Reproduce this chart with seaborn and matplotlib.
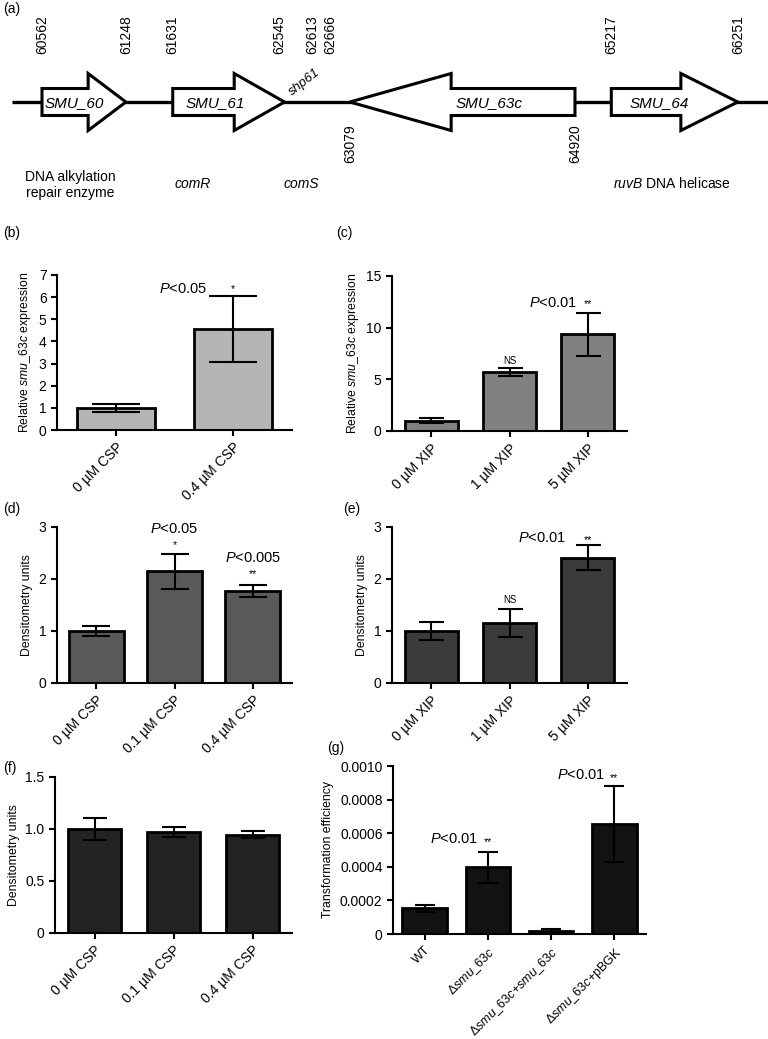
import numpy as np
import pandas as pd
import matplotlib
matplotlib.use("Agg")
import matplotlib.pyplot as plt
import matplotlib.patches as mpatches
import seaborn as sns

# ---- data ----
# (a) gene map
gene_names = ['SMU_60', 'SMU_61', 'SMU_63c', 'SMU_64']
gene_start = [60562, 61631, 63079, 65217]
gene_end = [61248, 62545, 64920, 66251]
gene_strand = [1, 1, -1, 1]
top_coords = [60562, 61248, 61631, 62545, 62613, 62666, 65217, 66251]
top_shift = [0, 0, 0, -4, 14, 22, 0, 0]  # points, to keep close labels apart
bottom_coords = [63079, 64920]

# (b) qRT-PCR, CSP
b_cats = ['0 µM CSP', '0.4 µM CSP']
b_vals = [1.0, 4.55]
b_err = [0.17, 1.49]

# (c) qRT-PCR, XIP
c_cats = ['0 µM XIP', '1 µM XIP', '5 µM XIP']
c_vals = [1.0, 5.74, 9.35]
c_err = [0.25, 0.39, 2.06]

# (d) densitometry, CSP
d_cats = ['0 µM CSP', '0.1 µM CSP', '0.4 µM CSP']
d_vals = [1.0, 2.15, 1.77]
d_err = [0.10, 0.335, 0.12]

# (e) densitometry, XIP
e_cats = ['0 µM XIP', '1 µM XIP', '5 µM XIP']
e_vals = [1.0, 1.16, 2.41]
e_err = [0.18, 0.27, 0.235]

# (f) densitometry, CSP control
f_cats = ['0 µM CSP', '0.1 µM CSP', '0.4 µM CSP']
f_vals = [1.0, 0.97, 0.945]
f_err = [0.11, 0.045, 0.035]

# (g) transformation efficiency
g_cats = ['WT', r'Δ$\mathit{smu\_63c}$', r'Δ$\mathit{smu\_63c}$+$\mathit{smu\_63c}$',
          r'Δ$\mathit{smu\_63c}$+pBGK']
g_vals = [0.000153, 0.000397, 0.000020, 0.000655]
g_err = [0.000020, 0.000091, 0.000008, 0.000228]

# ---- style ----
sns.set_style('ticks')
plt.rcParams['font.family'] = ['Liberation Sans', 'DejaVu Sans']
plt.rcParams['mathtext.fontset'] = 'custom'
plt.rcParams['mathtext.rm'] = 'Liberation Sans'
plt.rcParams['mathtext.it'] = 'Liberation Sans:italic'
plt.rcParams['axes.linewidth'] = 1.5
for key in ['text.color', 'axes.labelcolor', 'xtick.color', 'ytick.color', 'axes.edgecolor']:
    plt.rcParams[key] = 'black'

W, H = 768, 1039
fig = plt.figure(figsize=(W / 100, H / 100), dpi=100)


def px_axes(x0, y0, x1, y1):
    return fig.add_axes([x0 / W, 1 - y1 / H, (x1 - x0) / W, (y1 - y0) / H])


def panel_label(x, y, s):
    fig.text(x / W, 1 - y / H, s, fontsize=10, ha='left', va='center')


# ---- (a) gene map ----
px_per_bp = 0.1223
x_left = 60562 - 42 / px_per_bp
ax = px_axes(0, 0, W, 230)
ax.set_xlim(x_left, x_left + W / px_per_bp)
ax.set_ylim(230, 0)
ax.axis('off')
ax.plot([x_left + 12 / px_per_bp, x_left + W / px_per_bp], [102, 102],
        color='black', lw=2.4, zorder=1, solid_capstyle='butt')
for name, s, e, st in zip(gene_names, gene_start, gene_end, gene_strand):
    length = e - s
    x0, dx = (s, length) if st > 0 else (e, -length)
    arr = mpatches.FancyArrow(x0, 102, dx, 0, width=27, head_width=57,
                              head_length=0.45 * length, length_includes_head=True,
                              facecolor='white', edgecolor='black', lw=2.2, zorder=2)
    ax.add_patch(arr)
    tx = s + 0.38 * length if st > 0 else e - 0.38 * length
    ax.text(tx, 103, name, fontsize=11, fontstyle='italic', ha='center', va='center', zorder=3)
for c, sh in zip(top_coords, top_shift):
    ax.annotate(str(c), (c, 54), xytext=(sh, 0), textcoords='offset points',
                rotation=90, fontsize=10, ha='center', va='bottom')
for c in bottom_coords:
    ax.text(c, 124, str(c), rotation=90, fontsize=10, ha='center', va='top')
ax.text(62710, 82, 'shp61', rotation=38, fontsize=9.5, fontstyle='italic',
        ha='center', va='center')
ax.text(60791, 185, 'DNA alkylation\nrepair enzyme', fontsize=10, ha='center',
        va='center', linespacing=1.25)
ax.text(61797, 184, 'comR', fontsize=10, fontstyle='italic', ha='center', va='center')
ax.text(62680, 184, 'comS', fontsize=10, fontstyle='italic', ha='center', va='center')
ax.text(65713, 184, r'$\mathit{ruvB}$ DNA helicase', fontsize=10, ha='center', va='center')
panel_label(3, 9, '(a)')


# ---- bar panels ----
def bar_panel(ax, cats, vals, errs, color, width, capsize, ylim, yticks, yticklabels,
              ylabel, xsize=10):
    df = pd.DataFrame({'cat': range(len(cats)), 'val': vals})
    sns.barplot(data=df, x='cat', y='val', color=color, width=width, saturation=1,
                edgecolor='black', linewidth=2, errorbar=None, ax=ax, zorder=2)
    ax.errorbar(np.arange(len(vals)), vals, yerr=errs, fmt='none', ecolor='black',
                elinewidth=1.5, capsize=capsize, capthick=1.5, zorder=3)
    ax.set_xlim(-0.5, len(cats) - 0.5)
    ax.set_ylim(*ylim)
    ax.set_yticks(yticks)
    ax.set_yticklabels(yticklabels)
    ax.set_xticks(range(len(cats)))
    ax.set_xticklabels(cats, rotation=45, ha='right', rotation_mode='anchor')
    ax.set_xlabel('')
    ax.set_ylabel(ylabel, fontsize=8.8)
    ax.tick_params(axis='both', direction='out', length=4, width=1.5, labelsize=10)
    ax.tick_params(axis='x', labelsize=xsize)
    sns.despine(ax=ax)
    for sp in ax.spines.values():
        sp.set_linewidth(1.5)


def note(ax, x, y, s, size=10.5):
    ax.text(x, y, s, fontsize=size, ha='center', va='center')


rel = r'Relative $\mathit{smu\_63c}$ expression'
dens = 'Densitometry units'

# (b)
ax = px_axes(57, 275, 292, 430)
bar_panel(ax, b_cats, b_vals, b_err, '#b4b5b7', 0.66, 17, (0, 7), range(8),
          [str(i) for i in range(8)], rel)
note(ax, 0.57, 6.37, r'$\mathit{P}$<0.05')
note(ax, 1, 6.35, '*', 7.5)
panel_label(3, 233, '(b)')

# (c)
ax = px_axes(392, 276, 627, 431)
bar_panel(ax, c_cats, c_vals, c_err, '#7f8183', 0.68, 9, (0, 15), [0, 5, 10, 15],
          ['0', '5', '10', '15'], rel)
note(ax, 1.55, 12.4, r'$\mathit{P}$<0.01')
note(ax, 2, 12.3, '**', 7.5)
note(ax, 1, 6.75, 'NS', 7)
panel_label(336, 233, '(c)')

# (d)
ax = px_axes(57, 527, 292, 683)
bar_panel(ax, d_cats, d_vals, d_err, '#58595b', 0.7, 10, (0, 3), [0, 1, 2, 3],
          ['0', '1', '2', '3'], dens)
note(ax, 1, 2.96, r'$\mathit{P}$<0.05')
note(ax, 1, 2.66, '*', 7.5)
note(ax, 2, 2.40, r'$\mathit{P}$<0.005')
note(ax, 2, 2.10, '**', 7.5)
panel_label(3, 509, '(d)')

# (e)
ax = px_axes(392, 527, 627, 683)
bar_panel(ax, e_cats, e_vals, e_err, '#3a3b3d', 0.68, 9, (0, 3), [0, 1, 2, 3],
          ['0', '1', '2', '3'], dens)
note(ax, 1.42, 2.79, r'$\mathit{P}$<0.01')
note(ax, 2, 2.74, '**', 7.5)
note(ax, 1, 1.59, 'NS', 7)
panel_label(343, 509, '(e)')

# (f)
ax = px_axes(55, 777, 292, 933)
bar_panel(ax, f_cats, f_vals, f_err, '#232325', 0.68, 8.5, (0, 1.5), [0, 0.5, 1.0, 1.5],
          ['0', '0.5', '1.0', '1.5'], dens)
panel_label(3, 768, '(f)')

# (g)
ax = px_axes(393, 766, 646, 934)
bar_panel(ax, g_cats, g_vals, g_err, '#121212', 0.7, 7.5, (0, 0.001),
          [0, 0.0002, 0.0004, 0.0006, 0.0008, 0.0010],
          ['0', '0.0002', '0.0004', '0.0006', '0.0008', '0.0010'],
          'Transformation efficiency', xsize=9)
note(ax, 0.46, 0.000565, r'$\mathit{P}$<0.01')
note(ax, 1, 0.000545, '**', 7.5)
note(ax, 2.47, 0.000946, r'$\mathit{P}$<0.01')
note(ax, 3, 0.000928, '**', 7.5)
panel_label(327, 748, '(g)')

fig.savefig('out.png', dpi=100)
